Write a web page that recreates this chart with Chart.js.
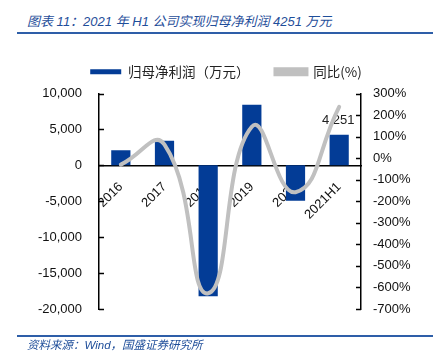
<!DOCTYPE html>
<html><head><meta charset="utf-8">
<script src="https://cdn.jsdelivr.net/npm/chart.js@4"></script>
<style>
body{margin:0;width:433px;height:358px;position:relative;background:#fff;overflow:hidden}
#title{position:absolute;left:27px;top:11px;font:italic 13px "Liberation Sans","Noto Sans CJK SC",sans-serif;color:#1F4E9A;white-space:nowrap}
#tline{position:absolute;left:17px;top:32px;width:416px;height:2px;background:#2E5EA8}
#fline{position:absolute;left:17px;top:335px;width:416px;height:2px;background:#2E5EA8}
#foot{position:absolute;left:27px;top:336px;font:italic 11.5px "Liberation Sans","Noto Sans CJK SC",sans-serif;color:#1F4E9A;white-space:nowrap}
canvas{position:absolute;left:0;top:0}
</style></head>
<body>
<div id="title">图表 11：2021 年 H1 公司实现归母净利润 4251 万元</div>
<div id="tline"></div>
<canvas id="c" width="433" height="358"></canvas>
<div id="fline"></div>
<div id="foot">资料来源：Wind，国盛证券研究所</div>
<script>
const categories = ['2016','2017','2018','2019','2020','2021H1'];
const profit = [2100, 3420, -18230, 8430, -4920, 4251];
const yoy = [-30, 63, -627, 146, -158, 238];
const seriesNames = ['归母净利润（万元）', '同比(%)'];
const leftTicks = {min:-20000, max:10000, step:5000};
const rightTicks = {min:-700, max:300, step:100};
const labelIndex = 5;

const numFont = {family:'"Liberation Sans", sans-serif', size:13};

const insideTicks = {
  id:'insideTicks',
  afterDraw(chart){
    const ctx = chart.ctx, ca = chart.chartArea;
    ctx.save();
    ctx.strokeStyle = '#000'; ctx.lineWidth = 1.5;
    const ys = chart.scales.y, y1 = chart.scales.y1;
    ys.ticks.forEach((t,i)=>{const p=Math.round(ys.getPixelForTick(i))+0.5;ctx.beginPath();ctx.moveTo(ca.left,p);ctx.lineTo(ca.left+5,p);ctx.stroke();});
    y1.ticks.forEach((t,i)=>{const p=Math.round(y1.getPixelForTick(i))+0.5;ctx.beginPath();ctx.moveTo(ca.right,p);ctx.lineTo(ca.right-5,p);ctx.stroke();});
    ctx.restore();
  }
};
const barLabel = {
  id:'barLabel',
  afterDatasetDraw(chart, args){
    if(args.index!==0) return;
    const el = args.meta.data[labelIndex];
    const ctx = chart.ctx;
    ctx.save();
    ctx.font = '13px "Liberation Sans", sans-serif';
    ctx.fillStyle = '#222';
    ctx.textAlign = 'center'; ctx.textBaseline = 'middle';
    ctx.fillText(profit[labelIndex].toLocaleString('en-US'), el.x - 1, el.y - 14);
    ctx.restore();
  }
};
const legendGap = {
  id:'legendGap',
  beforeLayout(chart){
    const lg = chart.legend;
    if(lg && !lg._gapPatched){
      const f = lg.fit;
      lg.fit = function(){ f.call(this); this.height += 5; };
      lg._gapPatched = true;
    }
  }
};

new Chart(document.getElementById('c'), {
  data:{
    labels: categories,
    datasets:[
      {type:'bar', label:seriesNames[0], data:profit, yAxisID:'y', backgroundColor:'#033C96', borderWidth:0, barPercentage:0.44, categoryPercentage:1, order:1},
      {type:'line', label:seriesNames[1], data:yoy, yAxisID:'y1', borderColor:'#C0C0C0', backgroundColor:'#C0C0C0', borderWidth:4, pointRadius:0, tension:0.5, borderCapStyle:'round', order:0}
    ]
  },
  options:{
    responsive:false, devicePixelRatio:1, animation:false,
    layout:{padding:{left:19,right:0,top:39,bottom:49}},
    plugins:{
      legend:{position:'top', labels:{font:{family:'"Noto Sans CJK SC", sans-serif', size:13.5}, color:'#222', boxWidth:31, boxHeight:5, padding:26, sort:(a,b)=>a.datasetIndex-b.datasetIndex}},
      tooltip:{enabled:false}
    },
    scales:{
      x:{position:{y:0}, z:1, grid:{display:false, drawTicks:false}, border:{display:true,color:'#000',width:1.5},
         ticks:{font:numFont, color:'#111', maxRotation:45, minRotation:45, padding:14, autoSkip:false}},
      y:{position:'left', min:leftTicks.min, max:leftTicks.max, grid:{display:false, drawTicks:false}, border:{display:true,color:'#000',width:1.5},
         ticks:{stepSize:leftTicks.step, font:numFont, color:'#111', padding:17, callback:v=>v.toLocaleString('en-US')},
         afterFit(s){s.width=80;}},
      y1:{position:'right', min:rightTicks.min, max:rightTicks.max, grid:{display:false, drawTicks:false}, border:{display:true,color:'#000',width:1.5},
         ticks:{stepSize:rightTicks.step, font:numFont, color:'#111', padding:12, callback:v=>v+'%'},
         afterFit(s){s.width=72;}}
    }
  },
  plugins:[insideTicks, barLabel, legendGap]
});
</script>
</body></html>
